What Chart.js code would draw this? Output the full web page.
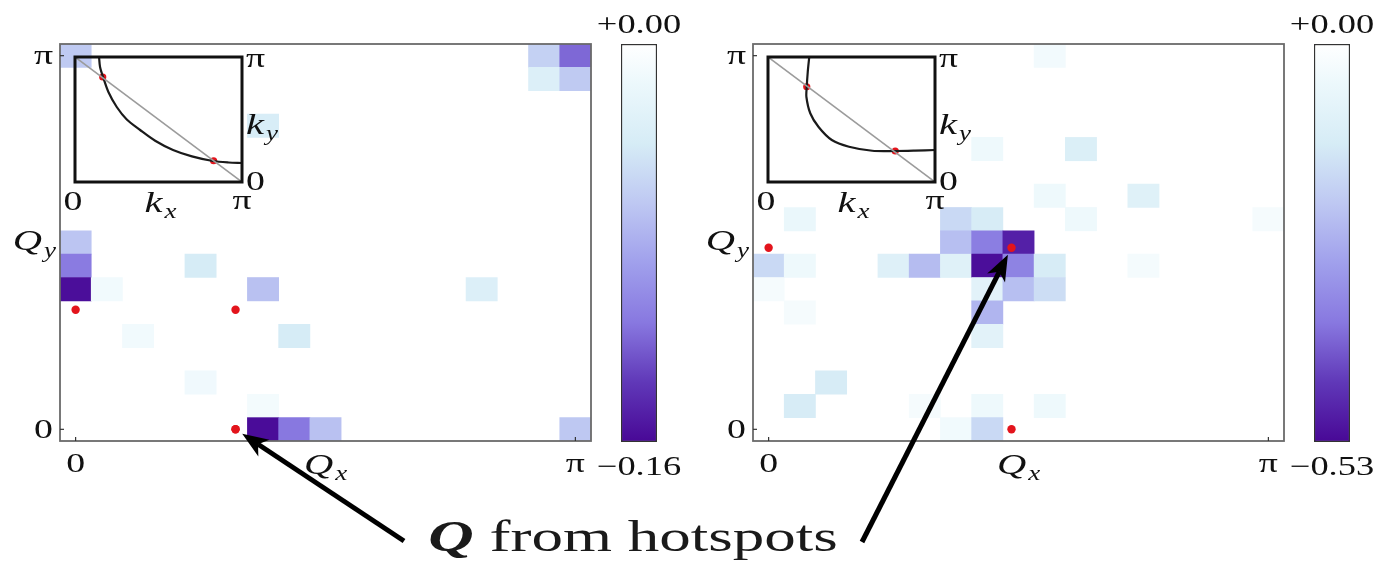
<!DOCTYPE html>
<html>
<head>
<meta charset="utf-8">
<script src="https://cdn.jsdelivr.net/npm/chart.js@4.4.0/dist/chart.umd.min.js"></script>
<style>
    html, body { margin: 0; padding: 0; background: #fff; }
    #stage { position: relative; width: 1384px; height: 564px; overflow: hidden; }
    #stage canvas { position: absolute; left: 0; top: 0; }
    #caption {
        position: absolute; left: 433px; top: 514px; width: 400px; text-align: center;
        font-family: 'Liberation Serif', 'DejaVu Serif', serif; font-size: 45px; line-height: 45px;
        color: #1a1a1a; white-space: nowrap; transform: scaleX(1.4); transform-origin: 50% 50%;
    }
</style>
</head>
<body>
<div id="stage">
    <canvas id="heatL" width="1384" height="564"></canvas>
    <canvas id="barL" width="1384" height="564"></canvas>
    <canvas id="insetL" width="1384" height="564"></canvas>
    <canvas id="heatR" width="1384" height="564"></canvas>
    <canvas id="barR" width="1384" height="564"></canvas>
    <canvas id="insetR" width="1384" height="564"></canvas>
    <div id="caption"><b><i>Q</i></b> from hotspots</div>
</div>
<script>
// --- DADOS ---
// grade 17x17, Q = k·π/16 com k = 0..16 (valores em unidades de π)
const gridN = 17;
const qLabels = ['0', '1', '2', '3', '4', '5', '6', '7', '8', '9', '10', '11', '12', '13', '14', '15', '16'];
const axisTickVals = [0, 1];
const axisTickText = ['0', 'π'];

// painel esquerdo
const leftCols = [0, 15, 16, 15, 16, 6, 0, 0, 0, 1, 4, 6, 13, 2, 7, 4, 6, 6, 7, 8, 16];
const leftRows = [16, 16, 16, 15, 15, 13, 8, 7, 6, 6, 7, 6, 6, 4, 4, 2, 1, 0, 0, 0, 0];
const leftVals = [-0.063, -0.058, -0.118, -0.034, -0.063, -0.038, -0.066, -0.110, -0.157, -0.012, -0.040,
                  -0.068, -0.034, -0.012, -0.040, -0.013, -0.010, -0.158, -0.112, -0.068, -0.064];
const leftMin = -0.16;
const leftHotQx = [0, 0.32, 0.32];
const leftHotQy = [0.32, 0.32, 0];
const leftFermiKx = [0.144, 0.15, 0.168, 0.20, 0.25, 0.31, 0.39, 0.48, 0.587, 0.70, 0.826, 0.92, 1.0];
const leftFermiKy = [1.0, 0.92, 0.84, 0.72, 0.60, 0.50, 0.416, 0.33, 0.256, 0.205, 0.168, 0.156, 0.152];
const leftSpotKx = [0.166, 0.83];
const leftSpotKy = [0.84, 0.17];

// painel direito
const rightCols = [9, 7, 10, 9, 12, 1, 6, 7, 10, 16, 6, 7, 8, 0, 1, 4, 5, 6, 7, 8, 9, 12, 0, 7, 8, 9, 1, 7, 7, 2, 1, 5, 7, 9, 6, 7];
const rightRows = [16, 12, 12, 10, 10, 9, 9, 9, 9, 9, 8, 8, 8, 7, 7, 7, 7, 7, 7, 7, 7, 7, 6, 6, 6, 6, 5, 5, 4, 2, 1, 1, 1, 1, 0, 0];
const rightVals = [-0.035, -0.048, -0.115, -0.048, -0.10, -0.06, -0.175, -0.13, -0.048, -0.027,
                   -0.23, -0.36, -0.49,
                   -0.175, -0.048, -0.105, -0.235, -0.10, -0.52, -0.35, -0.13, -0.03,
                   -0.027, -0.09, -0.23, -0.165,
                   -0.027, -0.25, -0.09, -0.13,
                   -0.13, -0.027, -0.048, -0.048,
                   -0.04, -0.175];
const rightMin = -0.53;
const rightHotQx = [0, 0.486, 0.486];
const rightHotQy = [0.486, 0.486, 0];
const rightFermiKx = [0.247, 0.238, 0.232, 0.23, 0.253, 0.303, 0.382, 0.485, 0.624, 0.762, 0.88, 1.0];
const rightFermiKy = [1.0, 0.88, 0.762, 0.68, 0.55, 0.44, 0.336, 0.282, 0.25, 0.248, 0.251, 0.256];
const rightSpotKx = [0.232, 0.762];
const rightSpotKy = [0.762, 0.248];

// mapa de cores: 0 -> branco, 1 -> roxo escuro
const cmapStops = [
    [0.00, [255, 255, 255]], [0.10, [236, 248, 252]], [0.25, [214, 236, 246]], [0.40, [190, 200, 242]],
    [0.55, [160, 160, 236]], [0.70, [136, 120, 224]], [0.85, [96, 56, 184]], [1.00, [72, 8, 150]]
];

// --- LAYOUT ---
const SERIF = "'Liberation Serif', 'DejaVu Serif', serif";
const TEXT_SX = 1.35;
const heatBox = { left: 60, right: 591, top: 44, bottom: 441 };
const barBox = { left: 621, right: 657, top: 44, bottom: 442 };
const insetBox = { left: 75, right: 242, top: 57, bottom: 182 };

function rgb(c) { return `rgb(${c[0]},${c[1]},${c[2]})`; }

function cmap(t) {
    t = Math.max(0, Math.min(1, t));
    for (let i = 1; i < cmapStops.length; i++) {
        const [t0, c0] = cmapStops[i - 1];
        const [t1, c1] = cmapStops[i];
        if (t <= t1) {
            const f = (t - t0) / (t1 - t0);
            return rgb(c0.map((v, k) => Math.round(v + (c1[k] - v) * f)));
        }
    }
    return rgb(cmapStops[cmapStops.length - 1][1]);
}

function padFor(box, off) {
    return { left: box.left + off, top: box.top, right: 1384 - box.right - off, bottom: 564 - box.bottom };
}

function text(ctx, str, x, y, align, font) {
    ctx.save();
    ctx.font = font;
    ctx.textAlign = align;
    ctx.textBaseline = 'middle';
    ctx.translate(x, y);
    ctx.scale(TEXT_SX, 1);
    ctx.fillText(str, 0, 0);
    ctx.restore();
}

// letra itálica com subscrito (Q_x, k_y ...)
function mathLabel(ctx, main, sub, x, y, align, size, subSize) {
    const fMain = `italic ${size}px ${SERIF}`;
    const fSub = `italic ${subSize}px ${SERIF}`;
    ctx.save();
    ctx.font = fMain; const wm = ctx.measureText(main).width * TEXT_SX;
    ctx.font = fSub; const ws = ctx.measureText(sub).width * TEXT_SX;
    const total = wm + ws + 2;
    let x0 = x;
    if (align === 'center') x0 = x - total / 2;
    if (align === 'right') x0 = x - total;
    text(ctx, main, x0, y, 'left', fMain);
    text(ctx, sub, x0 + wm + 2, y + size * 0.3, 'left', fSub);
    ctx.restore();
}

function drawArrow(ctx, x0, y0, x1, y1) {
    const ang = Math.atan2(y1 - y0, x1 - x0);
    const cs = Math.cos(ang), sn = Math.sin(ang);
    const head = 26, half = 10, notch = 7;
    const bx = x1 - head * cs, by = y1 - head * sn;
    ctx.save();
    ctx.strokeStyle = '#000';
    ctx.lineWidth = 5;
    ctx.beginPath(); ctx.moveTo(x0, y0); ctx.lineTo(bx + notch * cs, by + notch * sn); ctx.stroke();
    ctx.fillStyle = '#000';
    ctx.beginPath();
    ctx.moveTo(x1, y1);
    ctx.lineTo(bx + half * sn, by - half * cs);
    ctx.lineTo(bx + notch * cs, by + notch * sn);
    ctx.lineTo(bx - half * sn, by + half * cs);
    ctx.closePath(); ctx.fill();
    ctx.restore();
}

// monta um dataset de barras flutuantes por linha da grade
function heatDatasets(cols, rows, vals, vmin) {
    const porLinha = {};
    cols.forEach((c, i) => {
        const r = rows[i];
        if (!porLinha[r]) porLinha[r] = { data: new Array(gridN).fill(null), cores: new Array(gridN).fill('rgba(0,0,0,0)') };
        porLinha[r].data[c] = [(r - 0.5) / 16, (r + 0.5) / 16];
        porLinha[r].cores[c] = cmap(vals[i] / vmin);
    });
    return Object.keys(porLinha).map(r => ({
        type: 'bar',
        data: porLinha[r].data,
        backgroundColor: porLinha[r].cores,
        borderWidth: 0,
        grouped: false,
        barPercentage: 1,
        categoryPercentage: 1,
        xAxisID: 'x',
        yAxisID: 'y'
    }));
}

const baseOpts = {
    responsive: false,
    animation: false,
    events: [],
    plugins: { legend: { display: false }, tooltip: { enabled: false } }
};

function criarPainel(p) {
    // --- mapa de calor ---
    const heatPlugin = {
        id: 'heatDecor' + p.nome,
        afterDatasetsDraw(chart) {
            const { ctx, chartArea: a, scales } = chart;
            const xq = scales.xq, y = scales.y;
            ctx.save();
            ctx.strokeStyle = '#6a6a6a';
            ctx.lineWidth = 1.8;
            ctx.strokeRect(a.left, a.top, a.right - a.left, a.bottom - a.top);
            ctx.strokeStyle = '#333';
            ctx.lineWidth = 1.2;
            axisTickVals.forEach(v => {
                const px = xq.getPixelForValue(v), py = y.getPixelForValue(v);
                ctx.beginPath(); ctx.moveTo(px, a.bottom); ctx.lineTo(px, a.bottom - 4); ctx.stroke();
                ctx.beginPath(); ctx.moveTo(a.left, py); ctx.lineTo(a.left + 4, py); ctx.stroke();
            });
            ctx.fillStyle = '#111';
            axisTickVals.forEach((v, i) => {
                text(ctx, axisTickText[i], a.left - 7, y.getPixelForValue(v) + 1, 'right', `28px ${SERIF}`);
                text(ctx, axisTickText[i], xq.getPixelForValue(v), a.bottom + 24, 'center', `28px ${SERIF}`);
            });
            mathLabel(ctx, 'Q', 'x', (a.left + a.right) / 2, a.bottom + 25, 'center', 30, 20);
            mathLabel(ctx, 'Q', 'y', a.left - 4, (a.top + a.bottom) / 2, 'right', 30, 20);

            // seta a partir da legenda até o Q do hotspot
            const meta = chart.getDatasetMeta(chart.data.datasets.length - 1);
            const ponto = meta.data[p.seta];
            const alvo = ponto.getProps(['x', 'y'], true);
            const [tx, ty] = p.origemSeta;
            const d = Math.hypot(tx - alvo.x, ty - alvo.y);
            drawArrow(ctx, tx, ty, alvo.x + (tx - alvo.x) / d * 8, alvo.y + (ty - alvo.y) / d * 8);
            // o ponto vermelho fica por cima da ponta da seta
            ponto.draw(ctx, a);
            ctx.restore();
        }
    };

    const heatSets = heatDatasets(p.cols, p.rows, p.vals, p.vmin);
    heatSets.push({
        type: 'scatter',
        data: p.hotX.map((x, i) => ({ x: x, y: p.hotY[i] })),
        xAxisID: 'xq',
        yAxisID: 'y',
        pointRadius: 4.2,
        backgroundColor: '#e3141c',
        borderWidth: 0
    });

    new Chart(document.getElementById('heat' + p.nome), {
        type: 'bar',
        data: { labels: qLabels, datasets: heatSets },
        options: {
            ...baseOpts,
            layout: { padding: padFor(heatBox, p.off) },
            scales: {
                x: { type: 'category', offset: true, display: false },
                xq: { type: 'linear', offset: false, min: -1 / 32, max: 1 + 1 / 32, display: false },
                y: { type: 'linear', offset: false, min: -1 / 32, max: 1 + 1 / 32, display: false }
            }
        },
        plugins: [heatPlugin]
    });

    // --- barra de cores ---
    const barPlugin = {
        id: 'barDecor' + p.nome,
        afterDraw(chart) {
            const { ctx, chartArea: a } = chart;
            const cx = (a.left + a.right) / 2;
            ctx.save();
            ctx.fillStyle = '#111';
            text(ctx, '+0.00', cx, a.top - 18, 'center', `27px ${SERIF}`);
            text(ctx, '\u2212' + Math.abs(p.vmin).toFixed(2), cx, a.bottom + 26, 'center', `27px ${SERIF}`);
            ctx.restore();
        }
    };
    new Chart(document.getElementById('bar' + p.nome), {
        type: 'bar',
        data: {
            labels: [''],
            datasets: [{
                data: [[p.vmin, 0]],
                backgroundColor(c) {
                    const a = c.chart.chartArea;
                    if (!a) return '#fff';
                    const g = c.chart.ctx.createLinearGradient(0, a.top, 0, a.bottom);
                    cmapStops.forEach(s => g.addColorStop(s[0], rgb(s[1])));
                    return g;
                },
                borderColor: '#333',
                borderWidth: 1.5,
                borderSkipped: false,
                barPercentage: 1,
                categoryPercentage: 1
            }]
        },
        options: {
            ...baseOpts,
            layout: { padding: padFor(barBox, p.off) },
            scales: {
                x: { type: 'category', offset: true, display: false },
                y: { type: 'linear', min: p.vmin, max: 0, display: false }
            }
        },
        plugins: [barPlugin]
    });

    // --- inserto com a superfície de Fermi ---
    const insetPlugin = {
        id: 'insetDecor' + p.nome,
        afterDraw(chart) {
            const { ctx, chartArea: a, scales } = chart;
            const x = scales.x, y = scales.y;
            ctx.save();
            ctx.strokeStyle = '#111';
            ctx.lineWidth = 3;
            ctx.strokeRect(a.left, a.top, a.right - a.left, a.bottom - a.top);
            ctx.fillStyle = '#111';
            text(ctx, 'π', a.right + 4, y.getPixelForValue(1) + 3, 'left', `28px ${SERIF}`);
            mathLabel(ctx, 'k', 'y', a.right + 4, y.getPixelForValue(0.45), 'left', 30, 20);
            text(ctx, '0', a.right + 4, y.getPixelForValue(0) + 1, 'left', `28px ${SERIF}`);
            text(ctx, '0', x.getPixelForValue(0) - 2, a.bottom + 21, 'center', `28px ${SERIF}`);
            mathLabel(ctx, 'k', 'x', x.getPixelForValue(0.5) + 2, a.bottom + 22, 'center', 30, 20);
            text(ctx, 'π', x.getPixelForValue(1), a.bottom + 20, 'center', `28px ${SERIF}`);
            ctx.restore();
        }
    };
    new Chart(document.getElementById('inset' + p.nome), {
        type: 'scatter',
        data: {
            datasets: [
                {
                    data: [{ x: 0, y: 1 }, { x: 1, y: 0 }],
                    showLine: true, borderColor: '#9c9c9c', borderWidth: 1.6, pointRadius: 0
                },
                {
                    data: p.fermiX.map((x, i) => ({ x: x, y: p.fermiY[i] })),
                    showLine: true, borderColor: '#1a1a1a', borderWidth: 2.2, pointRadius: 0, tension: 0.3
                },
                {
                    data: p.spotX.map((x, i) => ({ x: x, y: p.spotY[i] })),
                    pointRadius: 3.6, backgroundColor: '#e3141c', borderWidth: 0
                }
            ]
        },
        options: {
            ...baseOpts,
            layout: { padding: padFor(insetBox, p.off) },
            scales: {
                x: { type: 'linear', min: 0, max: 1, display: false },
                y: { type: 'linear', min: 0, max: 1, display: false }
            }
        },
        plugins: [insetPlugin]
    });
}

// --- INICIALIZAÇÃO ---
criarPainel({
    nome: 'L', off: 0,
    cols: leftCols, rows: leftRows, vals: leftVals, vmin: leftMin,
    hotX: leftHotQx, hotY: leftHotQy, seta: 2, origemSeta: [404, 541],
    fermiX: leftFermiKx, fermiY: leftFermiKy, spotX: leftSpotKx, spotY: leftSpotKy
});
criarPainel({
    nome: 'R', off: 693,
    cols: rightCols, rows: rightRows, vals: rightVals, vmin: rightMin,
    hotX: rightHotQx, hotY: rightHotQy, seta: 1, origemSeta: [862, 542],
    fermiX: rightFermiKx, fermiY: rightFermiKy, spotX: rightSpotKx, spotY: rightSpotKy
});
</script>
</body>
</html>
